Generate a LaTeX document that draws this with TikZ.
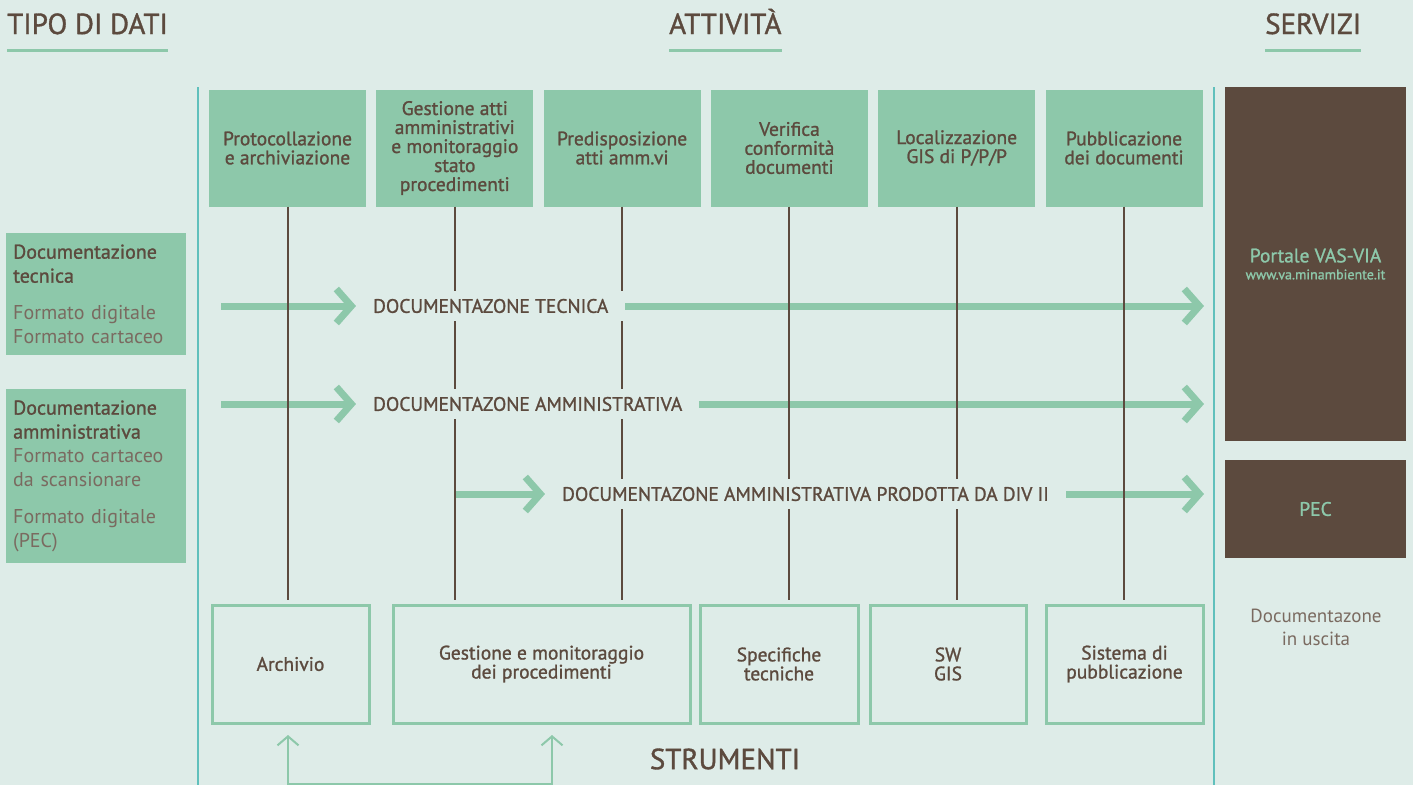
\documentclass[tikz,border=0pt]{standalone}
\usepackage{fontspec}
\setmainfont{PT Sans}
\newfontfamily\medium{PT Sans}[FakeBold=1.2]
\usepackage{xcolor}
\usepackage{tikz}
\usetikzlibrary{arrows.meta}

\definecolor{bgmint}{RGB}{222,236,232}
\definecolor{leaf}{RGB}{141,200,170}
\definecolor{bark}{RGB}{92,74,62}
\definecolor{barklight}{RGB}{122,106,96}
\definecolor{sea}{RGB}{96,192,188}

\pgfdeclarelayer{canvas}
\pgfdeclarelayer{flows}
\pgfsetlayers{canvas,flows,main}

\newcommand{\lite}[1]{{\normalfont\color{barklight}#1}}

\begin{document}
\begin{tikzpicture}[
    x=1pt, y=-1pt,
    every node/.style={inner sep=0pt, text=bark, font=\medium\fontsize{19.5}{19}\selectfont},
    headline/.style={font=\medium\fontsize{29}{29}\selectfont, anchor=base west},
    uline/.style={draw=leaf, line width=3pt},
    task/.style={fill=leaf, minimum width=157pt, minimum height=117pt, align=center},
    tool/.style={draw=leaf, line width=3pt, minimum height=118pt, align=center},
    source/.style={fill=leaf, anchor=north west, text width=166pt, inner xsep=7pt,
      align=left, font=\medium\fontsize{20}{24}\selectfont},
    outlet/.style={fill=bark, minimum width=181pt, text=leaf, align=center},
    stem/.style={draw=bark, line width=2pt},
    flow/.style={draw=leaf, line width=7pt, ->, >={Straight Barb[sharp,length=15pt,width=34pt]}},
    flowlabel/.style={fill=bgmint, anchor=west, inner xsep=17pt, inner ysep=8pt,
      font=\medium\fontsize{19.5}{19}\selectfont},
    ret/.style={draw=leaf, line width=2pt, <->, >={Straight Barb[sharp,length=9pt,width=21pt]}},
    divider/.style={draw=sea, line width=2pt}
  ]
  \begin{pgfonlayer}{canvas}
    \fill[bgmint] (0,0) rectangle (1413,785);
  \end{pgfonlayer}
  \useasboundingbox (0,0) rectangle (1413,785);

  % headings
  \node[headline] (tipo) at (7,34) {TIPO DI DATI};
  \node[headline] (attiv) at (669,34) {ATTIVITÀ};
  \node[headline] (serv) at (1265,34) {SERVIZI};
  \foreach \h in {tipo,attiv,serv}
    \draw[uline] ([yshift=-16pt]\h.base west) -- ([yshift=-16pt]\h.base east);

  \draw[divider] (198,87) -- (198,785);
  \draw[divider] (1214,87) -- (1214,785);

  % activities
  \foreach \i/\txt in {1/{Protocollazione\\e archiviazione},
      2/{Gestione atti\\amministrativi\\e monitoraggio\\stato\\procedimenti},
      3/{Predisposizione\\atti amm.vi},
      4/{Verifica\\conformità\\documenti},
      5/{Localizzazione\\GIS di P/P/P},
      6/{Pubblicazione\\dei documenti}}
    \node[task] (t\i) at ({287.5+167.3*(\i-1)},148) {\txt};

  \coordinate (stemfoot) at (0,600);
  \foreach \i in {1,...,6}
    \draw[stem] (t\i.south) -- (t\i.south |- stemfoot);

  % data types
  \node[source, minimum height=122pt] (doctec) at (6,233)
    {Documentazione\\tecnica\\[13pt]\lite{Formato digitale}\\\lite{Formato cartaceo}};
  \node[source, minimum height=174pt] (docamm) at (6,389)
    {Documentazione\\amministrativa\\\lite{Formato cartaceo}\\\lite{da scansionare}\\[13pt]\lite{Formato digitale}\\\lite{(PEC)}};

  % services
  \node[outlet, minimum height=354pt] (portal) at (1315.5,264)
    {Portale VAS-VIA\\[-2pt]{\fontsize{14}{14}\selectfont www.va.minambiente.it}};
  \node[outlet, minimum height=98pt] (pec) at (1315.5,509) {PEC};
  \node[align=center, text=barklight, font=\fontsize{19}{23}\selectfont] (uscita) at (1316,627)
    {Documentazone\\in uscita};

  % flows
  \node[flowlabel] (l1) at (356,306) {DOCUMENTAZONE TECNICA};
  \node[flowlabel] (l2) at (356,404) {DOCUMENTAZONE AMMINISTRATIVA};
  \node[flowlabel] (l3) at (545,494) {DOCUMENTAZONE AMMINISTRATIVA PRODOTTA DA DIV II};
  \coordinate (inlet) at (221,0);
  \coordinate (outedge) at (1204,0);
  \begin{pgfonlayer}{flows}
    \draw[flow] (l1.west -| inlet) -- (l1.west);
    \draw[flow] (l1.east) -- (l1.east -| outedge);
    \draw[flow] (l2.west -| inlet) -- (l2.west);
    \draw[flow] (l2.east) -- (l2.east -| outedge);
    \draw[flow] (t2.south |- l3.west) -- (l3.west);
    \draw[flow] (l3.east) -- (l3.east -| outedge);
  \end{pgfonlayer}

  % tools
  \node[tool, minimum width=157pt] (arch) at (290.5,664) {Archivio};
  \node[tool, minimum width=297pt] (gest) at (541.5,664) {Gestione e monitoraggio\\dei procedimenti};
  \node[tool, minimum width=158pt] (spec) at (779,664) {Specifiche\\tecniche};
  \node[tool, minimum width=156pt] (gis) at (948,664) {SW\\GIS};
  \node[tool, minimum width=157pt] (pubsys) at (1124.5,664) {Sistema di\\pubblicazione};
  \node[font=\medium\fontsize{29}{29}\selectfont] (strum) at (725,759) {STRUMENTI};

  \coordinate (r1) at (288,784);
  \coordinate (r2) at (552,784);
  \coordinate (rtip) at (0,735);
  \draw[ret] (r1 |- rtip) -- (r1) -- (r2) -- (r2 |- rtip);
\end{tikzpicture}
\end{document}
